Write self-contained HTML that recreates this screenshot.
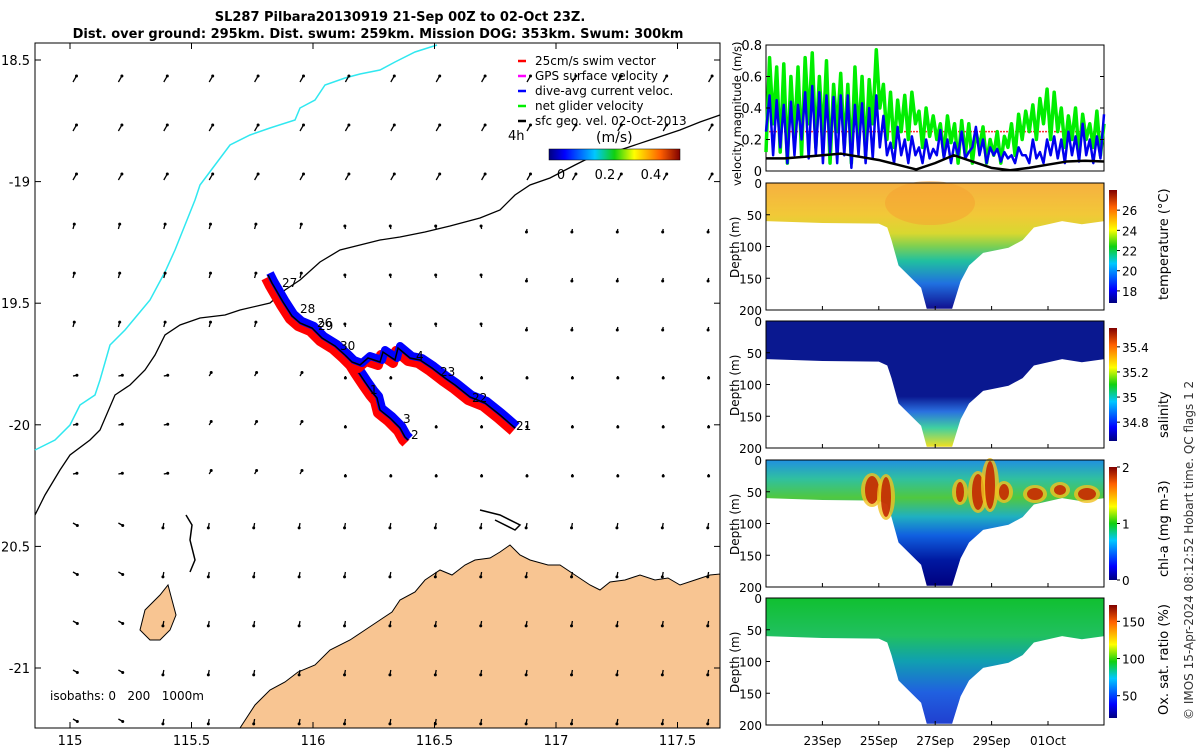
<!DOCTYPE html>
<html><head><meta charset="utf-8"><style>
body{margin:0;background:#fff;font-family:"Liberation Sans",sans-serif}
svg text{font-family:"DejaVu Sans","Liberation Sans",sans-serif}
</style></head><body>
<svg id="s" width="1200" height="750" xmlns="http://www.w3.org/2000/svg">
<defs>
<linearGradient id="jet" x1="0" x2="1" y1="0" y2="0">
<stop offset="0" stop-color="#00007f"/><stop offset="0.12" stop-color="#0000ff"/><stop offset="0.35" stop-color="#00c8ff"/><stop offset="0.5" stop-color="#10d010"/><stop offset="0.65" stop-color="#ffff00"/><stop offset="0.85" stop-color="#ff6000"/><stop offset="1" stop-color="#800000"/></linearGradient>
<linearGradient id="jetv" x1="0" x2="0" y1="1" y2="0">
<stop offset="0" stop-color="#00007f"/><stop offset="0.12" stop-color="#0000ff"/><stop offset="0.35" stop-color="#00c8ff"/><stop offset="0.5" stop-color="#10d010"/><stop offset="0.65" stop-color="#ffff00"/><stop offset="0.85" stop-color="#ff6000"/><stop offset="1" stop-color="#800000"/></linearGradient>
<linearGradient id="gT" x1="0" x2="0" y1="0" y2="1"><stop offset="0" stop-color="#f6b040"/><stop offset="0.25" stop-color="#f2c838"/><stop offset="0.4" stop-color="#d8d830"/><stop offset="0.5" stop-color="#80d050"/><stop offset="0.62" stop-color="#20c0a0"/><stop offset="0.8" stop-color="#2070e0"/><stop offset="1" stop-color="#101090"/></linearGradient>
<linearGradient id="gS" x1="0" x2="0" y1="0" y2="1"><stop offset="0" stop-color="#0a1890"/><stop offset="0.6" stop-color="#0a1890"/><stop offset="0.72" stop-color="#2a70e0"/><stop offset="0.85" stop-color="#40d0a0"/><stop offset="1" stop-color="#f0e020"/></linearGradient>
<linearGradient id="gC" x1="0" x2="0" y1="0" y2="1"><stop offset="0" stop-color="#2090e0"/><stop offset="0.15" stop-color="#30c0a0"/><stop offset="0.3" stop-color="#50c840"/><stop offset="0.45" stop-color="#20b0c0"/><stop offset="0.6" stop-color="#1060e0"/><stop offset="0.8" stop-color="#0018a0"/><stop offset="1" stop-color="#00007f"/></linearGradient>
<linearGradient id="gO" x1="0" x2="0" y1="0" y2="1"><stop offset="0" stop-color="#10c030"/><stop offset="0.3" stop-color="#20c060"/><stop offset="0.5" stop-color="#10a0b0"/><stop offset="0.75" stop-color="#2060e0"/><stop offset="1" stop-color="#2040d0"/></linearGradient>
</defs>

<text x="400" y="21" text-anchor="middle" font-size="13" font-weight="bold">SL287 Pilbara20130919 21-Sep 00Z to 02-Oct 23Z.</text>
<text x="378" y="38" text-anchor="middle" font-size="13" font-weight="bold">Dist. over ground: 295km. Dist. swum: 259km. Mission DOG: 353km. Swum: 300km</text>

<g id="map"></g>
<g id="vel"></g>
<g id="sec"></g>
<text transform="translate(1193,720) rotate(-90)" font-size="12" fill="#333">© IMOS 15-Apr-2024 08:12:52 Hobart time. QC flags 1  2</text>
</svg>
<script>
const NS="http://www.w3.org/2000/svg";
function E(p,t,a){const e=document.createElementNS(NS,t);for(const k in a)e.setAttribute(k,a[k]);p.appendChild(e);return e;}
function T(p,x,y,s,a){const e=E(p,'text',Object.assign({x:x,y:y,'font-size':13},a||{}));e.textContent=s;return e;}

// ---------- MAP ----------
const map=document.getElementById('map');
const lonTicks=[115,115.5,116,116.5,117,117.5];
const latTicks=[-18.5,-19,-19.5,-20,-20.5,-21];
const latLabels=['18.5','-19','19.5','-20','20.5','-21'];
const mx=lon=>70+(lon-115)*243;
const my=lat=>60+(-18.5-lat)*243.2;
E(map,'rect',{x:35,y:43,width:685,height:685,fill:'#fff',stroke:'#000'});
const land=E(map,'path',{d:"M240,728 L255,705 L270,690 L285,682 L298,672 L315,665 L330,650 L350,640 L365,630 L380,620 L392,612 L400,600 L415,592 L425,580 L440,570 L452,575 L465,565 L475,560 L490,558 L500,552 L510,545 L520,555 L530,560 L548,565 L560,565 L575,575 L590,585 L600,590 L610,582 L625,580 L640,575 L655,580 L668,578 L680,585 L695,580 L710,575 L720,574 L720,728 Z",fill:'#f8c592',stroke:'#000','stroke-width':1});


const isl=E(map,'path',{d:"M145,610 L160,595 L168,585 L172,600 L176,615 L170,630 L160,640 L150,640 L140,630 Z",fill:'#f8c592',stroke:'#000'});


E(map,'path',{d:"M186,515 L192,525 L190,540 L195,560 L190,572",fill:'none',stroke:'#000','stroke-width':1.5});
E(map,'path',{d:"M480,510 L500,515 L520,525 L515,530 L495,520",fill:'none',stroke:'#000','stroke-width':1.5});
const iso0=E(map,'path',{d:"M35,450 L55,440 L70,425 L80,405 L95,395 L100,380 L110,345 L125,330 L140,312 L150,300 L158,285 L165,272 L175,250 L185,225 L195,200 L200,185 L215,165 L230,145 L250,135 L270,128 L295,120 L300,108 L315,100 L325,85 L345,78 L360,74 L380,70 L395,62 L415,52 L437,45",fill:'none',stroke:'#30e8f0','stroke-width':1.5});


const iso200=E(map,'path',{d:"M35,515 L45,495 L60,470 L70,455 L90,440 L100,430 L115,395 L130,385 L145,370 L155,355 L165,335 L180,325 L200,318 L225,315 L240,310 L270,303 L285,290 L300,280 L320,262 L340,250 L360,245 L380,240 L400,237 L425,232 L450,226 L480,218 L500,210 L515,195 L530,185 L550,178 L575,165 L595,155 L620,150 L650,140 L680,130 L700,122 L720,115",fill:'none',stroke:'#000','stroke-width':1.3});


for(let r=0;r<14;r++){for(let c=0;c<15;c++){
  const x=73+c*45.4,y=82+r*49; if(x>715||y>722)continue;
  let ang,L;
  if(r<3){ang=-60;L=7;}
  else if(r<6){ang=c<6?-75:(c<10?-100:100);L=c<6?5:3;}
  else if(r<9){ang=c<3?-10:(c<6?-60:90);L=c<6?4:2;}
  else {ang=c<2?30:100;L=5;}
  const a=ang*Math.PI/180, dx=Math.cos(a)*L, dy=Math.sin(a)*L;
  const ar=E(map,'line',{x1:x,y1:y,x2:x+dx,y2:y+dy,stroke:'#000','stroke-width':1.3});
  
  
  E(map,'circle',{cx:x+dx,cy:y+dy,r:1.5,fill:'#000'});
}}
const trackA="M268,275 L272,283 L283,302 L292,316 L300,323 L312,328 L322,338 L335,346 L345,355 L352,362 L357,370 L365,382 L372,392 L377,398 L380,410 L390,418 L400,428 L405,437 L408,440";
const trackB="M345,355 L352,362 L360,365 L368,358 L380,362 L383,352 L395,360 L398,348 L410,358 L420,360 L432,368 L445,378 L455,385 L470,397 L485,403 L500,415 L515,428";
[trackA,trackB].forEach((d,i)=>{
  const r=E(map,'path',{d:d,fill:'none',stroke:'#ff0000','stroke-width':10,'stroke-linejoin':'round',transform:'translate(-2,3)'});
  
  
  const b=E(map,'path',{d:d,fill:'none',stroke:'#0000ff','stroke-width':8,'stroke-linejoin':'round',transform:'translate(2,-2)'});
  
  
  const k=E(map,'path',{d:d,fill:'none',stroke:'#000','stroke-width':1.5});
  
  
});
const dayLabels=[['27',282,287],['28',300,313],['26',317,327],['29',318,330],['30',340,350],['4',416,360],['23',440,376],['1',370,394],['22',472,402],['3',403,423],['2',411,439],['21',516,430]];
dayLabels.forEach(d=>{const t=T(map,d[1],d[2],d[0],{'font-size':12});});
lonTicks.forEach(v=>{E(map,'line',{x1:mx(v),y1:728,x2:mx(v),y2:722,stroke:'#000'});E(map,'line',{x1:mx(v),y1:43,x2:mx(v),y2:49,stroke:'#000'});
  const t=T(map,mx(v),745,String(v),{'text-anchor':'middle'});});
latTicks.forEach((v,i)=>{E(map,'line',{x1:35,y1:my(v),x2:41,y2:my(v),stroke:'#000'});E(map,'line',{x1:714,y1:my(v),x2:720,y2:my(v),stroke:'#000'});
  const t=T(map,30,my(v)+5,latLabels[i],{'text-anchor':'end'});});
const isoL=T(map,50,700,'isobaths: 0\u00a0\u00a0\u00a0200\u00a0\u00a0\u00a01000m',{'font-size':12});


const legItems=[['25cm/s swim vector','#ff0000'],['GPS surface velocity','#ff00ff'],['dive-avg current veloc.','#0000ff'],['net glider velocity','#00ee00'],['sfc geo. vel. 02-Oct-2013','#000']];
legItems.forEach((l,i)=>{const y=65+i*15;
  E(map,'line',{x1:518,y1:y-4,x2:526,y2:y-4,stroke:l[1],'stroke-width':2.5});
  const t=T(map,535,y,l[0],{'font-size':12});});
T(map,508,140,'4h',{'font-size':13});
T(map,596,142,'(m/s)',{'font-size':14});
const cb=E(map,'rect',{x:549,y:149,width:131,height:11,fill:'url(#jet)',stroke:'#000','stroke-width':0.5});


[['0',561],['0.2',605],['0.4',651]].forEach(c=>T(map,c[1],179,c[0],{'text-anchor':'middle'}));

// ---------- VELOCITY PANEL ----------
const vel=document.getElementById('vel');
const greenVals=[0.12,0.72,0.3,0.66,0.12,0.68,0.05,0.6,0.2,0.66,0.1,0.72,0.3,0.75,0.15,0.6,0.2,0.7,0.05,0.55,0.25,0.62,0.15,0.55,0.05,0.66,0.2,0.6,0.1,0.58,0.3,0.77,0.4,0.55,0.2,0.5,0.15,0.45,0.25,0.48,0.2,0.5,0.3,0.38,0.15,0.4,0.22,0.35,0.2,0.3,0.1,0.35,0.18,0.3,0.05,0.32,0.1,0.3,0.05,0.25,0.15,0.28,0.05,0.2,0.1,0.25,0.05,0.22,0.15,0.3,0.1,0.36,0.2,0.38,0.25,0.42,0.2,0.46,0.3,0.52,0.2,0.5,0.25,0.4,0.15,0.35,0.2,0.4,0.1,0.36,0.2,0.3,0.15,0.38,0.1,0.3];
const blueVals=[0.25,0.48,0.1,0.45,0.15,0.42,0.05,0.44,0.1,0.42,0.2,0.5,0.08,0.54,0.1,0.5,0.05,0.48,0.12,0.47,0.05,0.48,0.1,0.48,0.02,0.42,0.1,0.43,0.05,0.4,0.08,0.48,0.15,0.35,0.1,0.18,0.05,0.28,0.1,0.2,0.05,0.22,0.1,0.15,0.05,0.2,0.08,0.14,0.1,0.26,0.08,0.2,0.05,0.18,0.1,0.25,0.08,0.12,0.15,0.28,0.1,0.2,0.05,0.15,0.1,0.14,0.06,0.12,0.08,0.1,0.05,0.15,0.1,0.1,0.05,0.2,0.08,0.12,0.05,0.2,0.1,0.22,0.08,0.2,0.05,0.25,0.1,0.22,0.06,0.3,0.1,0.2,0.05,0.22,0.08,0.36];
const blackVals=[0.08,0.08,0.09,0.1,0.11,0.09,0.07,0.04,0.01,0.05,0.1,0.06,0.02,0.005,0.02,0.04,0.06,0.065,0.06];
const swimVal=0.25;
const velTicks=[0,0.2,0.4,0.6,0.8];
const VX0=766,VX1=1104,VY0=171,VY1=45;
const vy=v=>VY0-(v/0.8)*(VY0-VY1);
const vx=(i,n)=>VX0+i*(VX1-VX0)/(n-1);
E(vel,'rect',{x:VX0,y:VY1,width:VX1-VX0,height:VY0-VY1,fill:'#fff',stroke:'#000'});
function series(arr,col,w,name){const p=E(vel,'polyline',{points:arr.map((v,i)=>vx(i,arr.length)+','+vy(v)).join(' '),fill:'none',stroke:col,'stroke-width':w,'stroke-linejoin':'round'});
  }
const sw=E(vel,'line',{x1:VX0,x2:VX1,y1:vy(swimVal),y2:vy(swimVal),stroke:'#ff3030','stroke-width':1.5,'stroke-dasharray':'2,1'});


series(greenVals,'#00ee00',3.5,'net-glider-velocity-line');
series(blueVals,'#0000ee',2.5,'dive-avg-current-line');
series(blackVals,'#000',2.5,'sfc-geo-velocity-line');
velTicks.forEach(v=>{E(vel,'line',{x1:VX0,x2:VX0+4,y1:vy(v),y2:vy(v),stroke:'#000'});E(vel,'line',{x1:VX1-4,x2:VX1,y1:vy(v),y2:vy(v),stroke:'#000'});
  const t=T(vel,VX0-4,vy(v)+5,String(v),{'text-anchor':'end'});});
T(vel,0,0,'velocity magnitude (m/s)',{transform:'translate(741,186) rotate(-90)','font-size':11.5});

// ---------- SECTIONS ----------
const sec=document.getElementById('sec');
const dateLabels=['23Sep','25Sep','27Sep','29Sep','01Oct'];
const dateDays=[2,4,6,8,10];
const dx=d=>VX0+d*28.2;
const bDays=[0,2,4,4.3,4.45,4.7,5.5,5.7,6.6,6.9,7.2,7.7,8.6,9.1,9.5,10.5,11.2,12];
const bDepth=[60,63,64,70,90,130,165,198,198,155,130,110,102,90,70,60,65,60];
const panels=[
 {y:183,fill:'url(#gT)',label:'temperature (°C)',ticks:[18,20,22,24,26],min:16.8,max:28,name:'temperature'},
 {y:321,fill:'url(#gS)',label:'salinity',ticks:[34.8,35,35.2,35.4],min:34.65,max:35.55,name:'salinity'},
 {y:460,fill:'url(#gC)',label:'chl-a (mg m-3)',ticks:[0,1,2],min:0,max:2,name:'chlorophyll'},
 {y:598,fill:'url(#gO)',label:'Ox. sat. ratio (%)',ticks:[50,100,150],min:20,max:172,name:'oxygen'}];
const depthTicks=[0,50,100,150,200];
panels.forEach((P,pi)=>{
  const H=127, dy=d=>P.y+d/200*H;
  const g=E(sec,'g',{});
  
  
  let d='M'+VX0+','+P.y+' L'+VX1+','+P.y;
  for(let i=bDays.length-1;i>=0;i--) d+=' L'+dx(bDays[i])+','+dy(bDepth[i]);
  d+=' Z';
  E(g,'path',{d:d,fill:P.fill});
  if(pi==0){E(g,'ellipse',{cx:930,cy:P.y+20,rx:45,ry:22,fill:'#f5a030',opacity:0.5});}
  if(pi==2){
    [[872,490,7,14],[886,497,5,20],[978,492,6,18],[990,485,5,24],[1004,492,5,8],[1035,494,8,6],[1087,494,9,6],[960,492,4,10],[1060,490,6,5]].forEach(b=>{
      E(g,'ellipse',{cx:b[0],cy:b[1],rx:b[2]+4,ry:b[3]+3,fill:'#f0c020',opacity:0.8});
      E(g,'ellipse',{cx:b[0],cy:b[1],rx:b[2],ry:b[3],fill:'#c02000',opacity:0.85});});
  }
  E(g,'rect',{x:VX0,y:P.y,width:VX1-VX0,height:H,fill:'none',stroke:'#000'});
  depthTicks.forEach(v=>{E(g,'line',{x1:VX0,x2:VX0+4,y1:dy(v),y2:dy(v),stroke:'#000'});
    const t=T(g,VX0-4,dy(v)+5,String(v),{'text-anchor':'end','font-size':12});});
  dateDays.forEach(dd=>{E(g,'line',{x1:dx(dd),x2:dx(dd),y1:P.y+H,y2:P.y+H-4,stroke:'#000'});});
  T(g,0,0,'Depth (m)',{transform:'translate(739,'+(P.y+95)+') rotate(-90)','font-size':12});
  const c=E(g,'rect',{x:1109,y:P.y+7,width:8,height:H-14,fill:'url(#jetv)'});
  
  
  P.ticks.forEach(v=>{const yy=P.y+H-7-(v-P.min)/(P.max-P.min)*(H-14);
    E(g,'line',{x1:1117,x2:1120,y1:yy,y2:yy,stroke:'#000'});
    T(g,1122,yy+5,String(v),{'font-size':12});});
  T(g,0,0,P.label,{transform:'translate(1168,'+(P.y+H-10)+') rotate(-90)','font-size':13});
});
dateLabels.forEach((l,i)=>{const t=T(sec,dx(dateDays[i]),745,l,{'text-anchor':'middle','font-size':12});});
</script>
</body></html>
